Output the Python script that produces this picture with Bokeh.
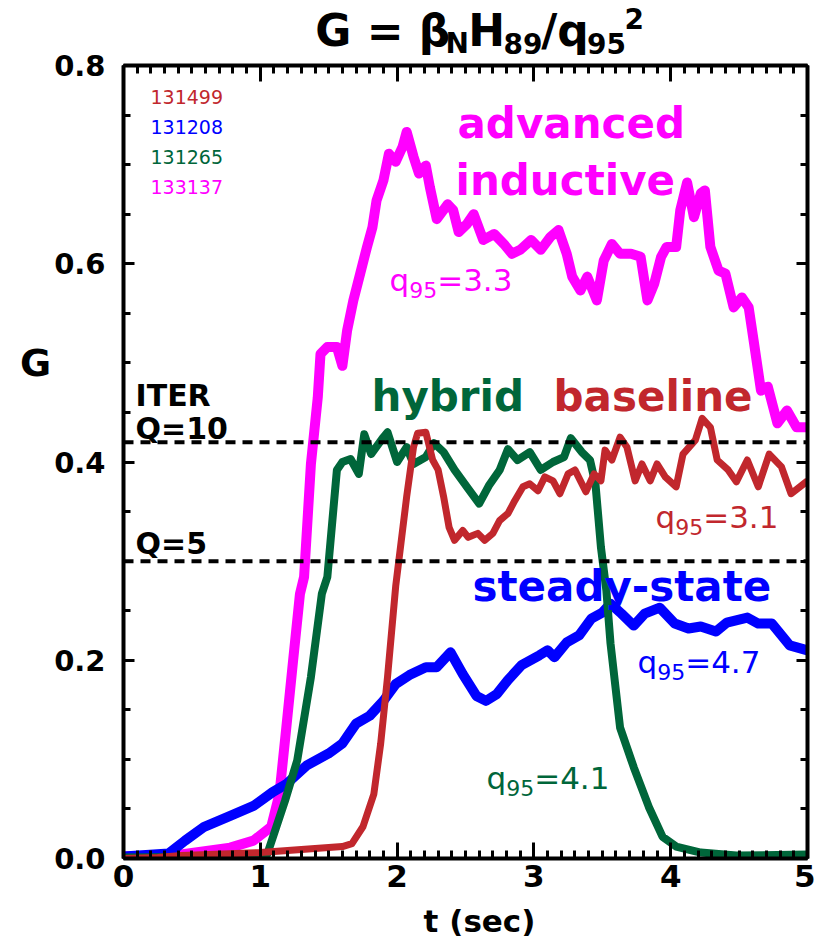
from bokeh.plotting import figure
from bokeh.layouts import column, row
from bokeh.models import (Range1d, LinearAxis, SingleIntervalTicker, FixedTicker, Label, Span,
                          PrintfTickFormatter, Grid)
from bokeh.embed import file_html
from bokeh.resources import INLINE

# ---------------- data ----------------
# advanced inductive, shot 133137, q95 = 3.3
t_adv = [0.0, 0.42, 0.78, 0.95, 1.08, 1.14, 1.19, 1.24, 1.29, 1.32, 1.37, 1.42, 1.44, 1.49,
         1.56, 1.60, 1.635, 1.68, 1.73, 1.78, 1.82, 1.85, 1.90, 1.94, 1.99, 2.04, 2.07, 2.12,
         2.16, 2.21, 2.24, 2.29, 2.37, 2.41, 2.45, 2.51, 2.56, 2.63, 2.71, 2.78, 2.84, 2.90,
         2.98, 3.05, 3.12, 3.18, 3.24, 3.28, 3.34, 3.39, 3.46, 3.51, 3.57, 3.63, 3.71, 3.78,
         3.83, 3.88, 3.93, 3.97, 4.04, 4.07, 4.12, 4.17, 4.22, 4.25, 4.29, 4.35, 4.40, 4.46,
         4.52, 4.57, 4.61, 4.66, 4.71, 4.78, 4.85, 4.92, 5.0]
g_adv = [0.002, 0.004, 0.011, 0.018, 0.032, 0.065, 0.132, 0.200, 0.267, 0.284, 0.398, 0.465,
         0.509, 0.516, 0.516, 0.497, 0.533, 0.563, 0.590, 0.617, 0.637, 0.664, 0.684, 0.711,
         0.703, 0.718, 0.733, 0.708, 0.691, 0.699, 0.677, 0.645, 0.660, 0.654, 0.632, 0.640,
         0.650, 0.624, 0.630, 0.620, 0.610, 0.614, 0.624, 0.614, 0.627, 0.634, 0.610, 0.587,
         0.573, 0.587, 0.563, 0.603, 0.620, 0.610, 0.610, 0.607, 0.563, 0.580, 0.607, 0.617,
         0.617, 0.654, 0.682, 0.647, 0.671, 0.674, 0.617, 0.593, 0.590, 0.556, 0.566, 0.556,
         0.519, 0.472, 0.476, 0.439, 0.452, 0.435, 0.435]

# steady-state, shot 131208, q95 = 4.7
t_ss = [0.0, 0.33, 0.45, 0.59, 0.78, 0.95, 1.09, 1.19, 1.34, 1.50, 1.60, 1.70, 1.80, 1.90,
        1.99, 2.09, 2.21, 2.29, 2.39, 2.48, 2.58, 2.65, 2.73, 2.81, 2.91, 3.04, 3.10, 3.15,
        3.24, 3.33, 3.42, 3.50, 3.56, 3.64, 3.73, 3.81, 3.92, 4.03, 4.13, 4.22, 4.33, 4.41,
        4.56, 4.64, 4.74, 4.87, 5.0]
g_ss = [0.002, 0.005, 0.018, 0.032, 0.043, 0.053, 0.067, 0.075, 0.094, 0.106, 0.116, 0.136,
        0.144, 0.159, 0.176, 0.185, 0.193, 0.193, 0.208, 0.186, 0.164, 0.159, 0.166, 0.180,
        0.195, 0.205, 0.210, 0.203, 0.218, 0.225, 0.242, 0.248, 0.257, 0.247, 0.235, 0.247,
        0.253, 0.237, 0.232, 0.234, 0.229, 0.238, 0.243, 0.237, 0.237, 0.215, 0.210]

# hybrid, shot 131265, q95 = 4.1
t_hyb = [0.0, 0.9, 1.05, 1.18, 1.27, 1.37, 1.45, 1.49, 1.56, 1.60, 1.66, 1.72, 1.76, 1.81,
         1.90, 1.93, 2.00, 2.07, 2.12, 2.21, 2.27, 2.34, 2.42, 2.51, 2.60, 2.67, 2.75, 2.81,
         2.88, 2.97, 3.05, 3.14, 3.22, 3.27, 3.35, 3.41, 3.45, 3.49, 3.53, 3.56, 3.63, 3.73,
         3.84, 3.94, 4.04, 4.22, 4.48, 5.0]
g_hyb = [0.001, 0.002, 0.004, 0.058, 0.099, 0.183, 0.267, 0.284, 0.392, 0.400, 0.403, 0.388,
         0.428, 0.408, 0.425, 0.430, 0.400, 0.415, 0.398, 0.405, 0.419, 0.410, 0.392, 0.375,
         0.358, 0.376, 0.392, 0.413, 0.402, 0.410, 0.392, 0.400, 0.405, 0.424, 0.410, 0.402,
         0.378, 0.314, 0.270, 0.217, 0.132, 0.092, 0.052, 0.022, 0.012, 0.006, 0.003, 0.004]

# baseline, shot 131499, q95 = 3.1
t_base = [0.0, 0.25, 0.42, 1.0, 1.6, 1.67, 1.75, 1.83, 1.88, 1.93, 1.99, 2.07, 2.12, 2.15,
          2.21, 2.26, 2.30, 2.34, 2.38, 2.42, 2.48, 2.52, 2.59, 2.64, 2.70, 2.75, 2.81, 2.86,
          2.92, 2.97, 3.03, 3.08, 3.14, 3.19, 3.25, 3.30, 3.38, 3.44, 3.49, 3.52, 3.57, 3.63,
          3.68, 3.74, 3.79, 3.85, 3.90, 3.96, 4.04, 4.09, 4.18, 4.23, 4.29, 4.34, 4.42, 4.48,
          4.56, 4.64, 4.72, 4.81, 4.88, 5.0]
g_base = [0.0, 0.001, 0.003, 0.006, 0.012, 0.015, 0.032, 0.065, 0.116, 0.183, 0.275, 0.365,
          0.415, 0.429, 0.430, 0.402, 0.392, 0.365, 0.334, 0.321, 0.331, 0.324, 0.328, 0.321,
          0.328, 0.341, 0.348, 0.361, 0.375, 0.378, 0.371, 0.385, 0.381, 0.368, 0.388, 0.392,
          0.370, 0.388, 0.381, 0.412, 0.402, 0.425, 0.415, 0.381, 0.398, 0.381, 0.398, 0.385,
          0.375, 0.408, 0.422, 0.444, 0.435, 0.402, 0.392, 0.380, 0.402, 0.375, 0.408, 0.395,
          0.368, 0.381]

shots = ["131499", "131208", "131265", "133137"]
ITER_Q10 = 0.42
ITER_Q5 = 0.30
x_major = [0, 1, 2, 3, 4, 5]
y_major = [0.0, 0.2, 0.4, 0.6, 0.8]

C_ADV = "#FF00FF"
C_SS = "#0000FF"
C_HYB = "#00663A"
C_BASE = "#C1272D"

FONT = "DejaVu Sans"
MID = 0.346           # baseline -> middle of the text box, in em

# ---------------- page geometry (px) ----------------
W, H = 815, 940
FR_L, FR_R, FR_T, FR_B = 123, 807, 65, 858   # plot frame edges on the page
G_W = 51              # strip holding the y-axis title
YL_R = 105            # right edge of the strip holding the y tick labels
TITLE_H = 61          # title strip (above the main plot only)
XLAB_H = 38           # x-axis title strip
TOP_H = H - XLAB_H
P_W = W - YL_R
P_H = TOP_H - TITLE_H
XMIN, XMAX, YMIN, YMAX = 0.0, 5.0, 0.0, 0.8


def bare(fig):
    fig.outline_line_color = None
    fig.background_fill_color = "white"
    fig.border_fill_color = "white"
    for g in fig.select(type=Grid):
        g.visible = False
    return fig


def strip(w, h):
    return bare(figure(width=w, height=h, x_range=Range1d(0, w), y_range=Range1d(h, 0),
                       output_backend="svg", toolbar_location=None,
                       x_axis_location=None, y_axis_location=None,
                       min_border_left=0, min_border_right=0,
                       min_border_top=0, min_border_bottom=0))


y_range = Range1d(YMIN, YMAX)

# main plot
p = bare(figure(width=P_W, height=P_H, x_range=Range1d(XMIN, XMAX), y_range=y_range,
                output_backend="svg", toolbar_location=None,
                x_axis_location=None, y_axis_location=None,
                min_border_left=FR_L - YL_R, min_border_right=W - FR_R,
                min_border_top=FR_T - TITLE_H, min_border_bottom=TOP_H - FR_B))

# y tick-label strip: shares the y range, its frame ends at the plot's left border
YL_FRAME = 2
ylab_fig = bare(figure(width=YL_R - G_W, height=TOP_H, x_range=Range1d(0, 1), y_range=y_range,
                       output_backend="svg", toolbar_location=None,
                       x_axis_location=None, y_axis_location=None,
                       min_border_left=YL_R - G_W - YL_FRAME, min_border_right=0,
                       min_border_top=FR_T, min_border_bottom=TOP_H - FR_B))

x_minor = [i / 10 for i in range(int(XMIN * 10), int(XMAX * 10) + 1)]
y_minor = [i / 20 for i in range(int(YMIN * 20), int(YMAX * 20) + 1)]

AX = dict(axis_line_width=4, axis_line_color="black",
          major_tick_out=0, minor_tick_out=0,
          major_tick_line_width=3, minor_tick_line_width=3,
          major_tick_line_color="black", minor_tick_line_color="black",
          major_label_text_font=FONT, major_label_text_font_style="bold",
          major_label_text_color="black")

# labelled x axis
p.add_layout(LinearAxis(ticker=SingleIntervalTicker(interval=1, num_minor_ticks=10),
                        major_tick_in=16, minor_tick_in=8,
                        major_label_text_font_size="31px", major_label_standoff=6, **AX),
             "below")

# y tick labels (drawn by the strip's axis, no line / ticks of its own)
ylab_fig.add_layout(LinearAxis(ticker=SingleIntervalTicker(interval=0.2, num_minor_ticks=4),
                               formatter=PrintfTickFormatter(format="%.1f"),
                               axis_line_color=None, major_tick_line_color=None,
                               minor_tick_line_color=None, major_tick_in=0, major_tick_out=0,
                               minor_tick_in=0, minor_tick_out=0,
                               major_label_text_font=FONT, major_label_text_font_style="bold",
                               major_label_text_color="black",
                               major_label_text_font_size="29px", major_label_standoff=0),
                    "left")


# tick marks without labels (left, top, right edges)
def marks(ticks, length, line):
    kw = dict(AX)
    if not line:
        kw["axis_line_color"] = None
    return LinearAxis(ticker=FixedTicker(ticks=[], minor_ticks=ticks),
                      major_tick_in=0, minor_tick_in=length, major_label_standoff=0, **kw)


p.add_layout(marks(y_minor, 7, True), "left")
p.add_layout(marks(y_major, 11, False), "left")
p.add_layout(marks(x_minor, 8, True), "above")
p.add_layout(marks(x_major, 16, False), "above")
p.add_layout(marks(y_minor, 7, True), "right")
p.add_layout(marks(y_major, 11, False), "right")

# ITER reference lines
for lvl in (ITER_Q10, ITER_Q5):
    p.add_layout(Span(location=lvl, dimension="width", line_color="black",
                      line_width=4, line_dash="10 7"))

# curves
p.line(t_adv, g_adv, line_color=C_ADV, line_width=10, line_join="round")
p.line(t_ss, g_ss, line_color=C_SS, line_width=10, line_join="round")
p.line(t_hyb, g_hyb, line_color=C_HYB, line_width=8, line_join="round")
p.line(t_base, g_base, line_color=C_BASE, line_width=7, line_join="round")

# ---------------- text helpers ----------------
EM_BOLD = {"G": 0.821, " ": 0.348, "=": 0.838, "β": 0.72, "H": 0.837, "N": 0.837,
           "/": 0.365, "q": 0.716, ".": 0.38}
EM_BOOK = {"=": 0.838, ".": 0.318, "q": 0.635}


def em(ch, bold):
    if ch.isdigit():
        return 0.696 if bold else 0.636
    return (EM_BOLD if bold else EM_BOOK).get(ch, 0.65)


def px2data(x, y):
    return (XMIN + (x - FR_L) / (FR_R - FR_L) * (XMAX - XMIN),
            YMIN + (FR_B - y) / (FR_B - FR_T) * (YMAX - YMIN))


def label(fig, text, x, y, size, color, bold=False, align="left", origin=None):
    # (x, y): left (or centre) and alphabetic baseline, in page pixels
    y = y - MID * size
    if origin is None:
        x, y = px2data(x, y)
    else:
        x, y = x - origin[0], y - origin[1]
    fig.add_layout(Label(x=x, y=y, text=text, text_font=FONT, text_font_size=f"{size}px",
                         text_font_style="bold" if bold else "normal", text_color=color,
                         text_align=align, text_baseline="middle"))


def runs(fig, parts, x, y, color, bold, origin=None):
    for text, size, dy in parts:
        label(fig, text, x, y - dy, size, color, bold, origin=origin)
        x += sum(em(c, bold) for c in text) * size


# title strip: G = beta_N H_89 / q_95^2
title_fig = strip(P_W, TITLE_H)
runs(title_fig, [("G = β", 44, 0), ("N", 28, -8), ("H", 44, 0), ("89", 28, -8),
                 ("/q", 44, 0), ("95", 28, -8), ("2", 28, 17)], 304, 45, "black", True,
     origin=(YL_R, 0))

# y-axis title strip
g_fig = strip(G_W, TOP_H)
label(g_fig, "G", 35, 352, 38, "black", bold=True, align="center", origin=(0, 0))

# x-axis title strip
x_fig = strip(W, XLAB_H)
label(x_fig, "t (sec)", 479, 931, 31, "black", bold=True, align="center", origin=(0, TOP_H))

# shot numbers
for i, (s, c) in enumerate(zip(shots, [C_BASE, C_SS, C_HYB, C_ADV])):
    label(p, s, 150, 103 + 30 * i, 19, c)

# scenario names
label(p, "advanced", 457, 138, 42, C_ADV, bold=True)
label(p, "inductive", 455, 195, 42, C_ADV, bold=True)
label(p, "hybrid", 371, 411, 42, C_HYB, bold=True)
label(p, "baseline", 553, 411, 42, C_BASE, bold=True)
label(p, "steady-state", 472, 601, 42, C_SS, bold=True)

# q95 annotations
for val, x, y, c in [("3.3", 389, 290, C_ADV), ("3.1", 655, 527, C_BASE),
                     ("4.7", 637, 672, C_SS), ("4.1", 486, 788, C_HYB)]:
    runs(p, [("q", 31, 0), ("95", 22, -7), ("=" + val, 31, 0)], x, y, c, False)

# ITER labels
label(p, "ITER", 135, 405, 30, "black", bold=True)
label(p, "Q=10", 135, 438, 30, "black", bold=True)
label(p, "Q=5", 135, 553, 30, "black", bold=True)

layout = column(row(g_fig, ylab_fig, column(title_fig, p)), x_fig)
open("out.html", "w").write(file_html(layout, INLINE, title="G = betaN H89 / q95^2"))
